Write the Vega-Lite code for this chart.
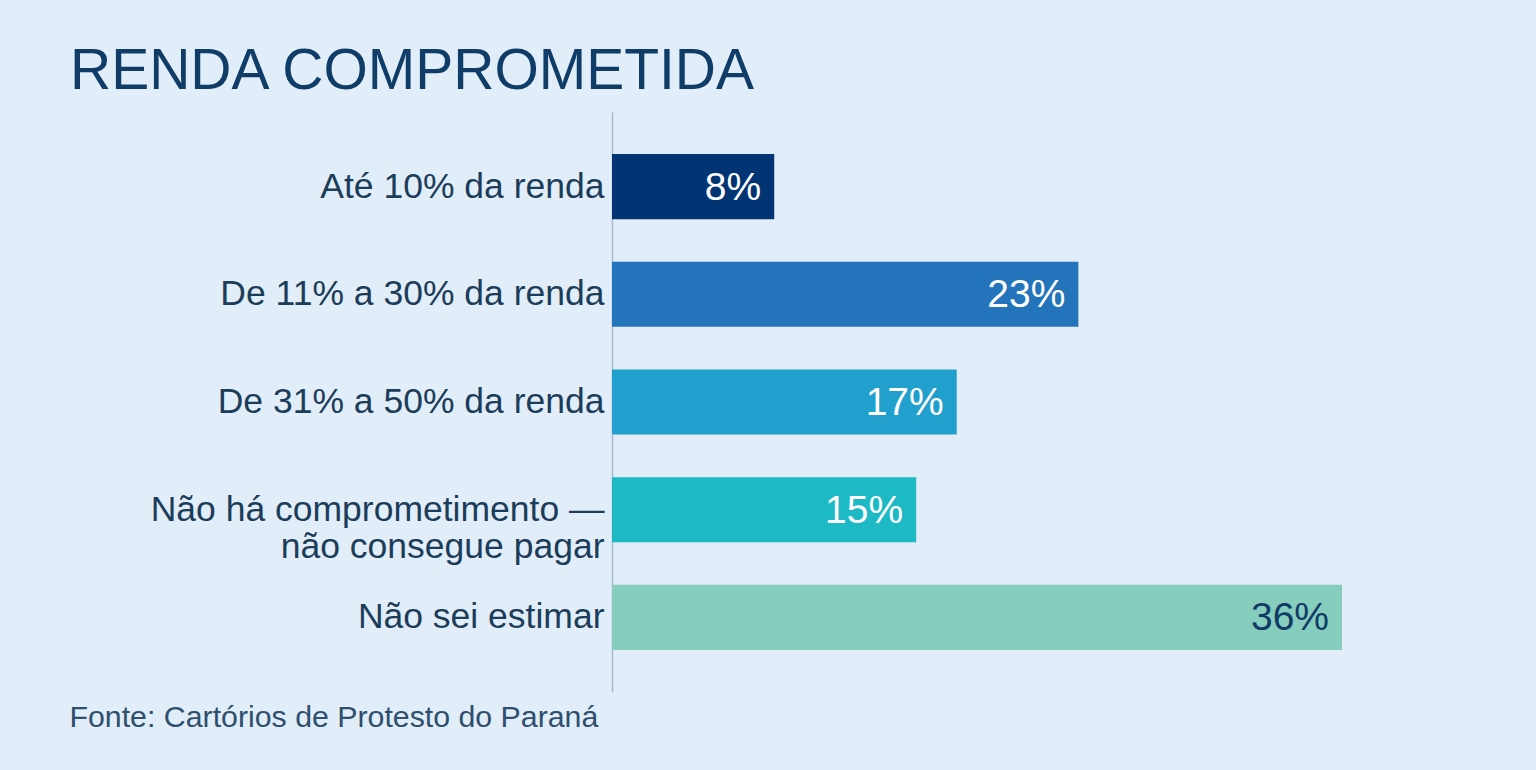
{
  "$schema": "https://vega.github.io/schema/vega-lite/v6.json",
  "autosize": {"type": "none"},
  "padding": {"left": 612, "top": 112, "right": 194, "bottom": 80},
  "width": 730,
  "height": 580,
  "background": "#E1EDF8",
  "config": {
    "font": "Liberation Sans",
    "view": {"stroke": null}
  },
  "title": {
    "text": "RENDA COMPROMETIDA",
    "anchor": "start",
    "frame": "group",
    "dx": -542,
    "dy": 56,
    "offset": 22,
    "baseline": "alphabetic",
    "fontSize": 57,
    "fontWeight": "normal",
    "color": "#103C68",
    "font": "Liberation Sans"
  },
  "data": {
    "values": [
      {"cat": "Até 10% da renda", "v": 8, "label": "8%"},
      {"cat": "De 11% a 30% da renda", "v": 23, "label": "23%"},
      {"cat": "De 31% a 50% da renda", "v": 17, "label": "17%"},
      {"cat": "Não há comprometimento — não consegue pagar", "v": 15, "label": "15%"},
      {"cat": "Não sei estimar", "v": 36, "label": "36%"}
    ]
  },
  "encoding": {
    "y": {
      "field": "cat",
      "type": "nominal",
      "sort": null,
      "scale": {"paddingInner": 0.395, "paddingOuter": 0.39},
      "axis": {
        "title": null,
        "ticks": false,
        "domain": true,
        "domainColor": "#A7BCD3",
        "domainWidth": 1.5,
        "labelFontSize": 35.5,
        "labelColor": "#1C3D5A",
        "labelPadding": 8,
        "labelLimit": 600,
        "labelLineHeight": 37,
        "labelExpr": "datum.value == 'Não há comprometimento — não consegue pagar' ? ['Não há comprometimento —', 'não consegue pagar'] : datum.value"
      }
    },
    "x": {
      "field": "v",
      "type": "quantitative",
      "scale": {"domain": [0, 36], "nice": false},
      "axis": {
        "grid": false,
        "domain": false,
        "ticks": false,
        "labels": false,
        "title": "Fonte: Cartórios de Protesto do Paraná",
        "titleX": -543,
        "titleY": 34,
        "titleAlign": "left",
        "titleAnchor": "start",
        "titleBaseline": "alphabetic",
        "titleFontSize": 30.3,
        "titleFontWeight": "normal",
        "titleColor": "#2E4F6E"
      }
    }
  },
  "layer": [
    {
      "mark": {"type": "bar"},
      "encoding": {
        "color": {
          "field": "cat",
          "type": "nominal",
          "sort": null,
          "legend": null,
          "scale": {
            "domain": ["Até 10% da renda", "De 11% a 30% da renda", "De 31% a 50% da renda", "Não há comprometimento — não consegue pagar", "Não sei estimar"],
            "range": ["#003473", "#2474BB", "#22A0CD", "#1DB9C5", "#87CDBE"]
          }
        }
      }
    },
    {
      "mark": {"type": "text", "align": "right", "baseline": "middle", "dx": -13, "dy": 1, "fontSize": 39},
      "encoding": {
        "text": {"field": "label"},
        "color": {
          "condition": {"test": "datum.cat == 'Não sei estimar'", "value": "#0F3B66"},
          "value": "#FFFFFF"
        }
      }
    }
  ]
}
